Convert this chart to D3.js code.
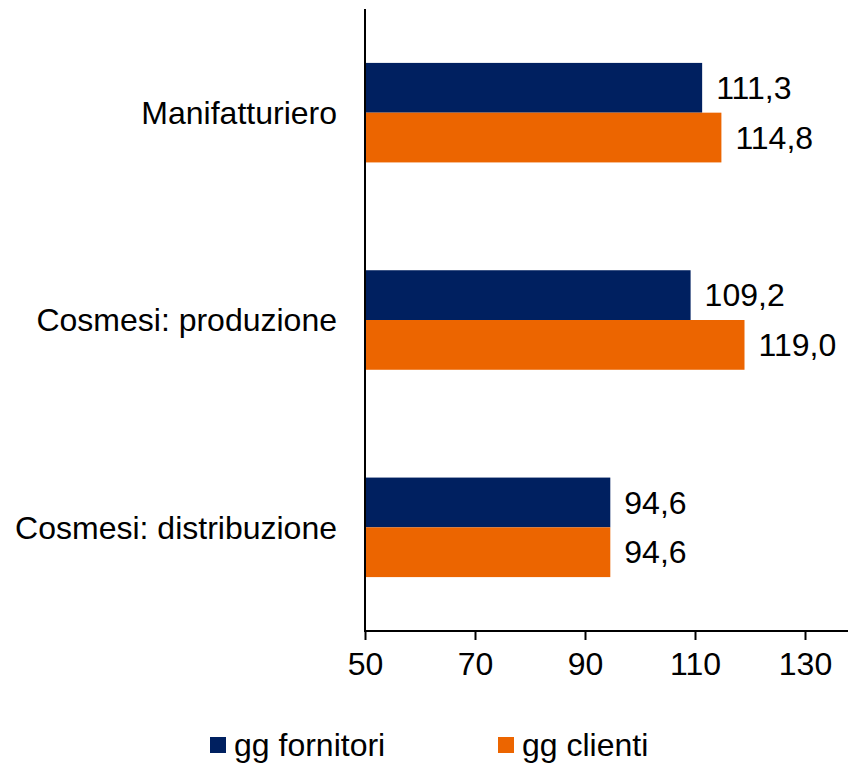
<!DOCTYPE html>
<html><head><meta charset="utf-8">
<script src="https://cdn.jsdelivr.net/npm/d3@7"></script>
<style>body{margin:0;background:#fff}svg{display:block;font-family:"Liberation Sans",Arial,sans-serif}</style>
</head><body>
<svg id="c" width="848" height="763"></svg>
<script>
const categories = ["Manifatturiero", "Cosmesi: produzione", "Cosmesi: distribuzione"];
const seriesNames = ["gg fornitori", "gg clienti"];
const fornitori = [111.3, 109.2, 94.6];
const clienti = [114.8, 119.0, 94.6];
const xTicks = [50, 70, 90, 110, 130];
const colors = ["#002060", "#EC6500"];

(function () {
const svg = d3.select("#c");
const mLeft = 365, mRight = 848, mTop = 9, mBottom = 631;
const fs = 32;

const x = d3.scaleLinear().domain([50, 50 + (mRight - mLeft) / 5.5]).range([mLeft, mRight]);
const y = d3.scaleBand().domain(categories).range([mTop, mBottom]).paddingInner(0.52).paddingOuter(0.26);
const y2 = d3.scaleBand().domain(seriesNames).range([0, y.bandwidth()]);

const data = categories.map((c, i) => ({cat: c, vals: [fornitori[i], clienti[i]]}));
const fmt = v => d3.format(".1f")(v).replace(".", ",");

const g = svg.append("g");
data.forEach(d => {
  d.vals.forEach((v, j) => {
    const yy = y(d.cat) + y2(seriesNames[j]);
    g.append("rect").attr("x", x(50)).attr("y", yy)
      .attr("width", x(v) - x(50)).attr("height", y2.bandwidth())
      .attr("fill", colors[j]);
    g.append("text").attr("x", x(v) + 14).attr("y", yy + y2.bandwidth() / 2)
      .attr("dy", "0.35em").attr("font-size", fs).attr("fill", "#000").text(fmt(v));
  });
});

const xa = svg.append("g").attr("transform", `translate(0,${mBottom})`)
  .call(d3.axisBottom(x).tickValues(xTicks).tickSize(9).tickPadding(12).tickFormat(d3.format("d")));
xa.select(".domain").attr("stroke", "#000").attr("stroke-width", 2).attr("d", `M${mLeft},0H${mRight}`);
xa.selectAll(".tick line").attr("stroke", "#000").attr("stroke-width", 2);
xa.selectAll(".tick text").attr("font-size", fs).attr("font-family", '"Liberation Sans",Arial,sans-serif').attr("fill", "#000");

svg.append("line").attr("x1", mLeft).attr("x2", mLeft).attr("y1", mTop).attr("y2", mBottom + 1)
  .attr("stroke", "#000").attr("stroke-width", 2);

categories.forEach(c => {
  svg.append("text").attr("x", 337).attr("y", y(c) + y.bandwidth() / 2).attr("dy", "0.35em")
    .attr("text-anchor", "end").attr("font-size", fs).attr("fill", "#000").text(c);
});

const legX = [210, 498];
seriesNames.forEach((s, j) => {
  svg.append("rect").attr("x", legX[j]).attr("y", 737).attr("width", 16).attr("height", 16).attr("fill", colors[j]);
  svg.append("text").attr("x", legX[j] + 24).attr("y", 745).attr("dy", "0.35em")
    .attr("font-size", fs).attr("fill", "#000").text(s);
});
})();
</script>
</body></html>
